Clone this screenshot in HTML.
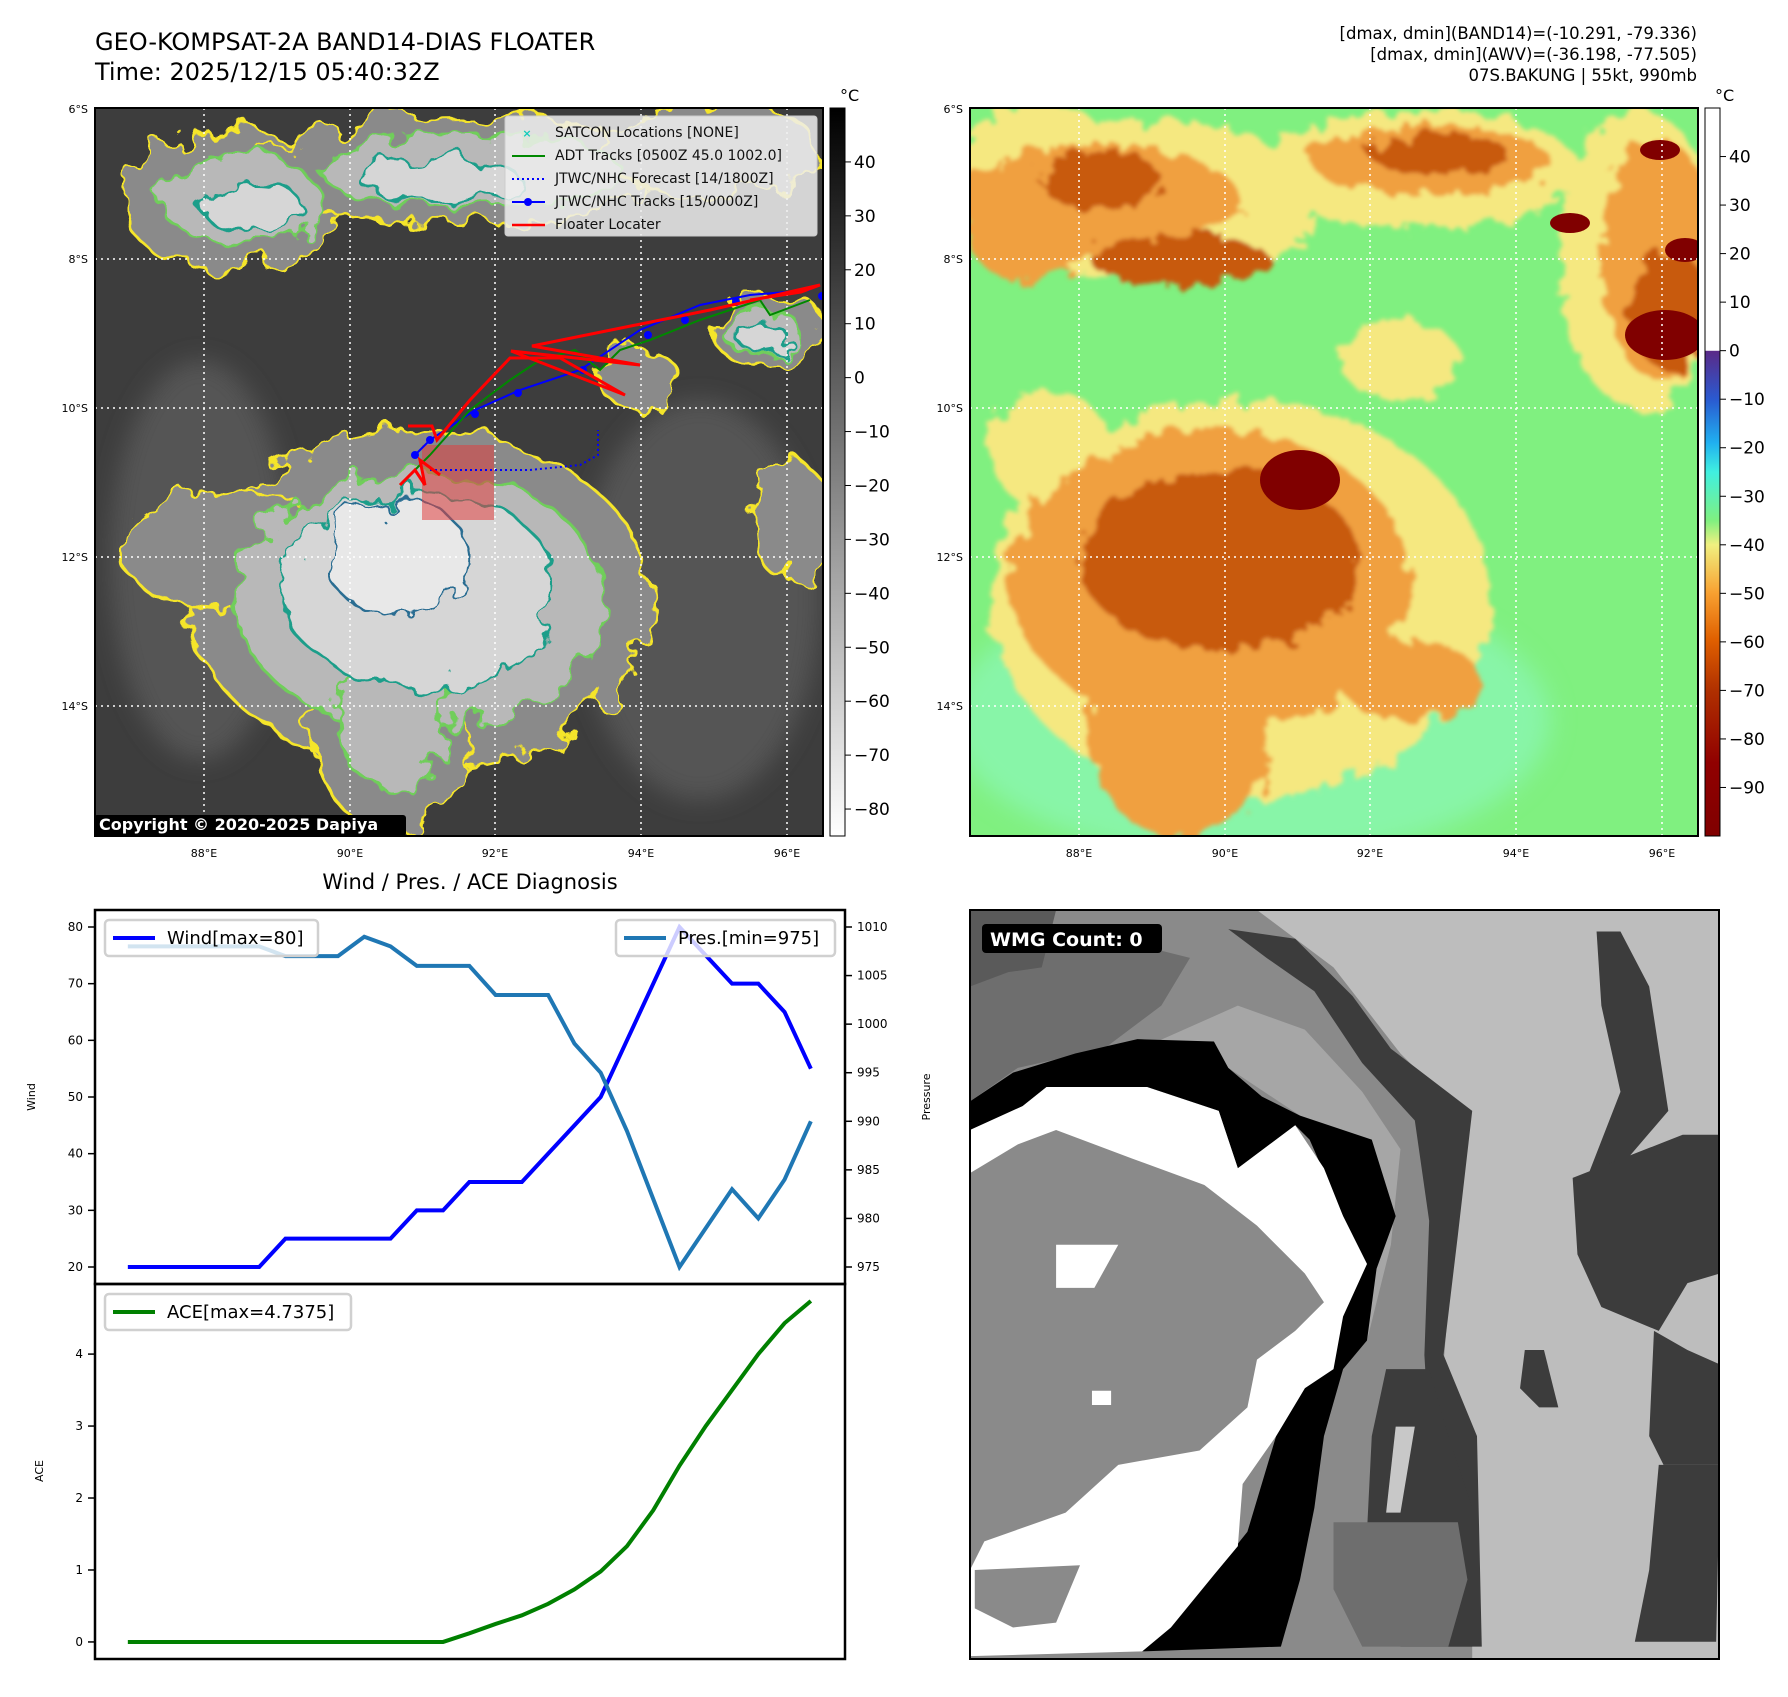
<!DOCTYPE html>
<html><head><meta charset="utf-8">
<style>
html,body{margin:0;padding:0;background:#fff;}
body{width:1788px;height:1697px;position:relative;overflow:hidden;font-family:"Liberation Sans","DejaVu Sans",sans-serif;}
svg{position:absolute;left:0;top:0;}
</style></head>
<body>
<svg id="fig" width="1788" height="1697" viewBox="0 0 1788 1697" xmlns="http://www.w3.org/2000/svg" font-family="DejaVu Sans, Liberation Sans, sans-serif">
<defs>
  <filter id="rough" x="-10%" y="-10%" width="120%" height="120%">
    <feTurbulence type="fractalNoise" baseFrequency="0.03" numOctaves="3" seed="4" result="n"/>
    <feDisplacementMap in="SourceGraphic" in2="n" scale="45"/>
  </filter>
  <filter id="rough2" x="-10%" y="-10%" width="120%" height="120%">
    <feTurbulence type="fractalNoise" baseFrequency="0.05" numOctaves="3" seed="9" result="n"/>
    <feDisplacementMap in="SourceGraphic" in2="n" scale="30"/>
    <feGaussianBlur stdDeviation="2"/>
  </filter>
  <filter id="soft"><feGaussianBlur stdDeviation="12"/></filter>
  <linearGradient id="cbGray" x1="0" y1="0" x2="0" y2="1">
    <stop offset="0" stop-color="#000"/><stop offset="1" stop-color="#fff"/>
  </linearGradient>
  <linearGradient id="cbAwv" x1="0" y1="0" x2="0" y2="1">
    <stop offset="0" stop-color="#fff"/><stop offset="0.333" stop-color="#fff"/>
    <stop offset="0.334" stop-color="#5a2a88"/><stop offset="0.40" stop-color="#2a5ad0"/>
    <stop offset="0.46" stop-color="#20b0f0"/><stop offset="0.50" stop-color="#40f0e0"/>
    <stop offset="0.567" stop-color="#80f080"/><stop offset="0.60" stop-color="#f0f080"/>
    <stop offset="0.667" stop-color="#f8a030"/><stop offset="0.73" stop-color="#e06000"/>
    <stop offset="0.80" stop-color="#b03000"/><stop offset="0.90" stop-color="#900000"/>
    <stop offset="1" stop-color="#800000"/>
  </linearGradient>
  <clipPath id="clipL"><rect x="95" y="108" width="728" height="728"/></clipPath>
  <clipPath id="clipR"><rect x="970" y="108" width="728" height="728"/></clipPath>
  <clipPath id="clipW"><rect x="970" y="910" width="749" height="749"/></clipPath>
</defs>

<!-- Titles -->
<text x="95" y="50" font-size="24">GEO-KOMPSAT-2A BAND14-DIAS FLOATER</text>
<text x="95" y="80" font-size="24">Time: 2025/12/15 05:40:32Z</text>
<g font-size="16.5" text-anchor="end">
  <text x="1697" y="39">[dmax, dmin](BAND14)=(-10.291, -79.336)</text>
  <text x="1697" y="60">[dmax, dmin](AWV)=(-36.198, -77.505)</text>
  <text x="1697" y="81">07S.BAKUNG | 55kt, 990mb</text>
</g>

<!-- LEFT IR MAP -->
<g clip-path="url(#clipL)">
  <rect x="95" y="108" width="728" height="728" fill="#3d3d3d"/>
  <g filter="url(#soft)" fill="#555">
    <ellipse cx="200" cy="560" rx="90" ry="200"/><ellipse cx="700" cy="600" rx="120" ry="200"/>
  </g>
  <g filter="url(#rough)">
    <g fill="#8a8a8a" stroke="#f5e52a" stroke-width="3">
      <ellipse cx="420" cy="600" rx="230" ry="170"/>
      <ellipse cx="390" cy="720" rx="80" ry="110"/>
      <ellipse cx="230" cy="550" rx="110" ry="60"/>
      <ellipse cx="230" cy="200" rx="110" ry="70"/>
      <ellipse cx="460" cy="170" rx="200" ry="55"/>
      <ellipse cx="710" cy="150" rx="110" ry="45"/>
      <ellipse cx="770" cy="330" rx="60" ry="35"/>
      <ellipse cx="790" cy="520" rx="40" ry="60"/>
      <ellipse cx="640" cy="380" rx="40" ry="30"/>
    </g>
    <g fill="#b8b8b8" stroke="#6fce5a" stroke-width="3">
      <ellipse cx="420" cy="600" rx="185" ry="130"/>
      <ellipse cx="390" cy="710" rx="55" ry="80"/>
      <ellipse cx="240" cy="200" rx="80" ry="45"/>
      <ellipse cx="470" cy="170" rx="150" ry="38"/>
      <ellipse cx="760" cy="330" rx="40" ry="22"/>
    </g>
    <g fill="#d6d6d6" stroke="#1f9e8a" stroke-width="3">
      <ellipse cx="420" cy="590" rx="140" ry="95"/>
      <ellipse cx="250" cy="205" rx="50" ry="25"/>
      <ellipse cx="440" cy="180" rx="80" ry="22"/>
      <ellipse cx="760" cy="335" rx="25" ry="14"/>
    </g>
    <g fill="#e8e8e8" stroke="#2a6d92" stroke-width="2.5">
      <ellipse cx="400" cy="560" rx="70" ry="60"/>
    </g>
  </g>
  <g stroke="#fff" stroke-width="1.5" stroke-dasharray="2,4">
    <line x1="204" y1="108" x2="204" y2="836"/><line x1="350" y1="108" x2="350" y2="836"/>
    <line x1="495" y1="108" x2="495" y2="836"/><line x1="641" y1="108" x2="641" y2="836"/>
    <line x1="787" y1="108" x2="787" y2="836"/>
    <line x1="95" y1="259" x2="823" y2="259"/><line x1="95" y1="408" x2="823" y2="408"/>
    <line x1="95" y1="557" x2="823" y2="557"/><line x1="95" y1="706" x2="823" y2="706"/>
  </g>
  <rect x="422" y="445" width="72" height="75" fill="#e04040" opacity="0.55"/>
  <polyline points="415,455 430,440 475,410 520,390 580,370 640,330 700,305 750,295 810,290" fill="none" stroke="#00f" stroke-width="2"/>
  <g fill="#00f">
    <circle cx="415" cy="455" r="4"/><circle cx="430" cy="440" r="4"/><circle cx="475" cy="414" r="4"/><circle cx="518" cy="393" r="4"/>
    <circle cx="583" cy="370" r="4"/><circle cx="648" cy="335" r="4"/><circle cx="685" cy="320" r="4"/><circle cx="736" cy="302" r="4"/><circle cx="822" cy="296" r="4"/>
  </g>
  <polyline points="430,470 470,470 530,470 580,465 598,455 598,430" fill="none" stroke="#00f" stroke-width="2" stroke-dasharray="2,3"/>
  <polyline points="400,485 430,455 470,410 510,380 540,360 575,350 600,370 620,350 650,340 700,320 760,300 770,315 810,300" fill="none" stroke="#080" stroke-width="2"/>
  <polyline points="408,426 432,426 437,440 470,400 510,358 560,358 625,395 511,351 640,365 532,346 710,310 820,285 801,292 750,300" fill="none" stroke="#f00" stroke-width="3"/>
  <polyline points="400,485 415,470 425,485 420,460 440,475" fill="none" stroke="#f00" stroke-width="3"/>
</g>
<rect x="95" y="108" width="728" height="728" fill="none" stroke="#000" stroke-width="2"/>
<g>
  <rect x="505" y="116" width="312" height="120" rx="3" fill="#eee" fill-opacity="0.85" stroke="#ccc"/>
  <text x="527" y="137" font-size="11" fill="#1cb" text-anchor="middle" font-weight="bold">×</text>
  <line x1="512" y1="156" x2="545" y2="156" stroke="#080" stroke-width="2"/>
  <line x1="512" y1="179" x2="545" y2="179" stroke="#00f" stroke-width="2" stroke-dasharray="2,3"/>
  <line x1="512" y1="202" x2="545" y2="202" stroke="#00f" stroke-width="2"/><circle cx="528" cy="202" r="4" fill="#00f"/>
  <line x1="512" y1="225" x2="545" y2="225" stroke="#f00" stroke-width="2.5"/>
  <g font-size="14" fill="#111">
    <text x="555" y="137">SATCON Locations [NONE]</text>
    <text x="555" y="160">ADT Tracks [0500Z 45.0 1002.0]</text>
    <text x="555" y="183">JTWC/NHC Forecast [14/1800Z]</text>
    <text x="555" y="206">JTWC/NHC Tracks [15/0000Z]</text>
    <text x="555" y="229">Floater Locater</text>
  </g>
</g>
<rect x="94" y="815" width="312" height="21" rx="3" fill="#000"/>
<text x="99" y="830" font-size="16" font-weight="bold" fill="#fff">Copyright © 2020-2025 Dapiya</text>
<g font-size="11">
  <g text-anchor="end"><text x="88" y="113">6°S</text><text x="88" y="263">8°S</text><text x="88" y="412">10°S</text><text x="88" y="561">12°S</text><text x="88" y="710">14°S</text></g>
  <g text-anchor="middle"><text x="204" y="857">88°E</text><text x="350" y="857">90°E</text><text x="495" y="857">92°E</text><text x="641" y="857">94°E</text><text x="787" y="857">96°E</text></g>
</g>
<rect x="830" y="108" width="15" height="728" fill="url(#cbGray)" stroke="#000" stroke-width="1"/>
<text x="840" y="101" font-size="16">°C</text>
<g id="cbLticks" font-size="17"></g>

<!-- RIGHT AWV MAP -->
<g clip-path="url(#clipR)">
  <rect x="970" y="108" width="728" height="728" fill="#80f080"/>
  <ellipse cx="1250" cy="720" rx="300" ry="140" fill="#88f5a8" filter="url(#soft)"/>
  <g filter="url(#rough2)">
    <g fill="#f5e880">
      <ellipse cx="1240" cy="600" rx="250" ry="200"/>
      <ellipse cx="1150" cy="200" rx="170" ry="80"/>
      <ellipse cx="1420" cy="170" rx="160" ry="60"/>
      <ellipse cx="1640" cy="260" rx="80" ry="150"/>
      <ellipse cx="1040" cy="180" rx="80" ry="80"/>
      <ellipse cx="1050" cy="450" rx="60" ry="60"/>
      <ellipse cx="1400" cy="360" rx="60" ry="40"/>
    </g>
    <g fill="#f0a040">
      <ellipse cx="1210" cy="580" rx="200" ry="150"/>
      <ellipse cx="1180" cy="730" rx="90" ry="110"/>
      <ellipse cx="1100" cy="200" rx="140" ry="55"/>
      <ellipse cx="1430" cy="160" rx="120" ry="35"/>
      <ellipse cx="1660" cy="260" rx="60" ry="120"/>
      <ellipse cx="1030" cy="240" rx="60" ry="40"/>
      <ellipse cx="1410" cy="680" rx="70" ry="40"/>
    </g>
    <g fill="#c85a10">
      <ellipse cx="1220" cy="560" rx="140" ry="90"/>
      <ellipse cx="1180" cy="260" rx="90" ry="25"/>
      <ellipse cx="1440" cy="155" rx="70" ry="20"/>
      <ellipse cx="1670" cy="310" rx="40" ry="60"/>
      <ellipse cx="1100" cy="180" rx="60" ry="30"/>
    </g>
  </g>
  <ellipse cx="1300" cy="480" rx="40" ry="30" fill="#800000"/>
  <ellipse cx="1570" cy="223" rx="20" ry="10" fill="#800000"/>
  <ellipse cx="1665" cy="335" rx="40" ry="25" fill="#800000"/>
  <ellipse cx="1685" cy="250" rx="20" ry="12" fill="#800000"/>
  <ellipse cx="1660" cy="150" rx="20" ry="10" fill="#800000"/>
  <g stroke="#fff" stroke-width="1.5" stroke-dasharray="2,4">
    <line x1="1079" y1="108" x2="1079" y2="836"/><line x1="1225" y1="108" x2="1225" y2="836"/>
    <line x1="1370" y1="108" x2="1370" y2="836"/><line x1="1516" y1="108" x2="1516" y2="836"/>
    <line x1="1662" y1="108" x2="1662" y2="836"/>
    <line x1="970" y1="259" x2="1698" y2="259"/><line x1="970" y1="408" x2="1698" y2="408"/>
    <line x1="970" y1="557" x2="1698" y2="557"/><line x1="970" y1="706" x2="1698" y2="706"/>
  </g>
</g>
<rect x="970" y="108" width="728" height="728" fill="none" stroke="#000" stroke-width="2"/>
<g font-size="11">
  <g text-anchor="end"><text x="963" y="113">6°S</text><text x="963" y="263">8°S</text><text x="963" y="412">10°S</text><text x="963" y="561">12°S</text><text x="963" y="710">14°S</text></g>
  <g text-anchor="middle"><text x="1079" y="857">88°E</text><text x="1225" y="857">90°E</text><text x="1370" y="857">92°E</text><text x="1516" y="857">94°E</text><text x="1662" y="857">96°E</text></g>
</g>
<rect x="1705" y="108" width="15" height="728" fill="url(#cbAwv)" stroke="#000" stroke-width="1"/>
<text x="1715" y="101" font-size="16">°C</text>
<g id="cbRticks" font-size="17"></g>

<!-- WMG panel -->
<g clip-path="url(#clipW)">
  <g transform="translate(970,910) scale(0.4783)">
    <rect x="0" y="0" width="1568" height="1568" fill="#bdbdbd"/>
    <polygon points="0,0 600,0 760,120 900,300 1030,430 1010,700 990,950 1050,1200 1050,1568 0,1568" fill="#8a8a8a"/>
    <polygon points="0,100 300,60 460,100 400,200 280,290 100,330 0,400" fill="#6e6e6e"/>
    <polygon points="380,280 560,200 700,250 820,380 900,500 880,700 830,900 780,960 760,800 830,740 780,640 690,430 540,330" fill="#a6a6a6"/>
    <polygon points="540,40 680,60 800,180 880,290 1050,420 1020,680 990,930 1060,1100 1070,1540 1000,1540 960,1100 950,930 960,650 930,440 820,320 720,170 620,100" fill="#3c3c3c"/>
    <polygon points="870,960 960,960 1000,1100 1050,1250 1050,1540 900,1540 880,1400 830,1300 840,1100" fill="#3c3c3c"/>
    <polygon points="890,1080 930,1080 900,1260 870,1260" fill="#c8c8c8"/>
    <polygon points="760,1280 1020,1280 1040,1400 1000,1540 820,1540 760,1420" fill="#6e6e6e"/>
    <polygon points="0,400 90,340 220,300 350,270 510,275 540,330 610,390 690,430 840,480 890,640 850,750 830,900 780,960 740,1100 720,1250 690,1400 650,1540 360,1550 410,1490 500,1400 580,1300 640,1100 700,1000 760,800 830,740 780,640 710,480 680,450 560,540 520,420 370,370 160,370 110,410 0,460" fill="#000"/>
    <polygon points="0,460 110,410 160,370 370,370 520,420 560,540 680,450 740,540 780,640 830,740 780,850 760,960 700,1000 640,1100 570,1200 560,1330 510,1390 420,1500 360,1550 0,1560" fill="#fff"/>
    <polygon points="0,550 100,490 180,460 340,520 490,575 600,660 700,760 740,820 680,880 600,940 580,1040 480,1130 310,1160 200,1260 30,1320 0,1380" fill="#8a8a8a"/>
    <polygon points="10,1380 230,1370 180,1490 90,1500 10,1460" fill="#8a8a8a"/>
    <polygon points="180,700 310,700 260,790 180,790" fill="#fff"/>
    <polygon points="255,1005 295,1005 295,1035 255,1035" fill="#fff"/>
    <polygon points="1310,45 1360,45 1420,160 1460,420 1340,560 1290,560 1360,380 1320,200" fill="#3c3c3c"/>
    <polygon points="1260,560 1490,470 1568,470 1568,760 1500,780 1440,880 1320,830 1270,720" fill="#3c3c3c"/>
    <polygon points="1430,880 1500,920 1568,950 1568,1160 1450,1160 1420,1100" fill="#3c3c3c"/>
    <polygon points="1440,1160 1568,1160 1560,1530 1390,1530 1420,1380" fill="#3c3c3c"/>
    <polygon points="1160,920 1200,920 1230,1040 1190,1040 1150,1000" fill="#3c3c3c"/>
    <polygon points="0,0 180,0 150,120 80,130 0,160" fill="#5a5a5a"/>
  </g>
</g>
<rect x="970" y="910" width="749" height="749" fill="none" stroke="#000" stroke-width="2"/>
<rect x="982" y="924" width="180" height="29" rx="4" fill="#000"/>
<text x="990" y="946" font-size="19" font-weight="bold" fill="#fff">WMG Count: 0</text>

<!-- Chart -->
<text x="470" y="889" font-size="21" text-anchor="middle">Wind / Pres. / ACE Diagnosis</text>
<g id="chart"></g>
</svg>

<script>
const idx = [0,1,2,3,4,5,6,7,8,9,10,11,12,13,14,15,16,17,18,19,20,21,22,23,24,25,26];
const windVals = [20,20,20,20,20,20,25,25,25,25,25,30,30,35,35,35,40,45,50,60,70,80,75,70,70,65,55];
const presVals = [1008,1008,1008,1008,1008,1008,1007,1007,1007,1009,1008,1006,1006,1006,1003,1003,1003,998,995,989,982,975,979,983,980,984,990];
const aceVals = [0,0,0,0,0,0,0,0,0,0,0,0,0,0.12,0.25,0.37,0.53,0.73,0.98,1.33,1.83,2.45,3.0,3.5,4.0,4.43,4.7375];
const windTicks = [20,30,40,50,60,70,80];
const presTicks = [975,980,985,990,995,1000,1005,1010];
const aceTicks = [0,1,2,3,4];
const grayCbTicks = [40,30,20,10,0,-10,-20,-30,-40,-50,-60,-70,-80];
const awvCbTicks = [40,30,20,10,0,-10,-20,-30,-40,-50,-60,-70,-80,-90];

const NS='http://www.w3.org/2000/svg';
function mk(tag, attrs, parent){const e=document.createElementNS(NS,tag);for(const k in attrs)e.setAttribute(k,attrs[k]);parent.appendChild(e);return e;}
const L=95,R=845,T1=910,B1=1284,T2=1284,B2=1659;
const xMin=-1.25,xMax=27.3;
const xs=i=>L+(i-xMin)/(xMax-xMin)*(R-L);
const yW=v=>B1-(v-17.0)/(83.0-17.0)*(B1-T1);
const yP=v=>B1-(v-973.25)/(1011.75-973.25)*(B1-T1);
const yA=v=>B2-(v+0.237)/(4.974+0.237)*(B2-T2);
const g=document.getElementById('chart');
const mn=t=>t.toString().replace('-','\u2212');

windTicks.forEach(v=>{const y=yW(v);
  const t=mk('line',{x1:L-7,x2:L,y1:y,y2:y,stroke:'#000','stroke-width':1.5},g);
  
  
  const l=mk('text',{x:L-12,y:y+4,'font-size':12,'text-anchor':'end'},g);l.textContent=v;
  
  
});
presTicks.forEach(v=>{const y=yP(v);
  const t=mk('line',{x1:R,x2:R+7,y1:y,y2:y,stroke:'#000','stroke-width':1.5},g);
  
  
  const l=mk('text',{x:R+12,y:y+4,'font-size':12},g);l.textContent=v;
  
  
});
aceTicks.forEach(v=>{const y=yA(v);
  const t=mk('line',{x1:L-7,x2:L,y1:y,y2:y,stroke:'#000','stroke-width':1.5},g);
  
  
  const l=mk('text',{x:L-12,y:y+4,'font-size':12,'text-anchor':'end'},g);l.textContent=v;
  
  
});
function lab(txt,x,y,name){const e=mk('text',{x:x,y:y,'font-size':11,'text-anchor':'middle',transform:`rotate(-90 ${x} ${y})`},g);e.textContent=txt;
  
  }
lab('Wind',35,1097,'wind-axis-title');
lab('Pressure',930,1097,'pressure-axis-title');
lab('ACE',43,1471,'ace-axis-title');

function line(vals,yf,color,name){
  const p=mk('polyline',{points:idx.map((i,k)=>xs(i)+','+yf(vals[k])).join(' '),fill:'none',stroke:color,'stroke-width':4,'stroke-linejoin':'miter'},g);
  
  
}
line(windVals,yW,'#0000ff','wind-line');
line(presVals,yP,'#1f77b4','pressure-line');
line(aceVals,yA,'#008000','ace-line');

const f1=mk('rect',{x:L,y:T1,width:R-L,height:B1-T1,fill:'none',stroke:'#000','stroke-width':2.5},g);


const f2=mk('rect',{x:L,y:T2,width:R-L,height:B2-T2,fill:'none',stroke:'#000','stroke-width':2.5},g);



function legend(x,y,w,color,txt,name){
  const r=mk('rect',{x:x,y:y,width:w,height:36,rx:4,fill:'#fff','fill-opacity':0.8,stroke:'#d0d0d0','stroke-width':2.5},g);
  
  
  mk('line',{x1:x+8,x2:x+50,y1:y+18,y2:y+18,stroke:color,'stroke-width':4},g);
  const t=mk('text',{x:x+62,y:y+24,'font-size':18},g);t.textContent=txt;
}
legend(105,920,213,'#0000ff','Wind[max=80]','wind-legend');
legend(616,920,219,'#1f77b4','Pres.[min=975]','pressure-legend');
legend(105,1294,246,'#008000','ACE[max=4.7375]','ace-legend');

const cbL=document.getElementById('cbLticks');
grayCbTicks.forEach(v=>{const y=836-(v+85)/(135)*728;
  mk('line',{x1:845,x2:851,y1:y,y2:y,stroke:'#000'},cbL);
  const t=mk('text',{x:854,y:y+6},cbL);t.textContent=mn(v);
  
  
});
const cbR=document.getElementById('cbRticks');
awvCbTicks.forEach(v=>{const y=836-(v+100)/150*728;
  mk('line',{x1:1720,x2:1726,y1:y,y2:y,stroke:'#000'},cbR);
  const t=mk('text',{x:1729,y:y+6},cbR);t.textContent=mn(v);
  
  
});
</script>
</body></html>
